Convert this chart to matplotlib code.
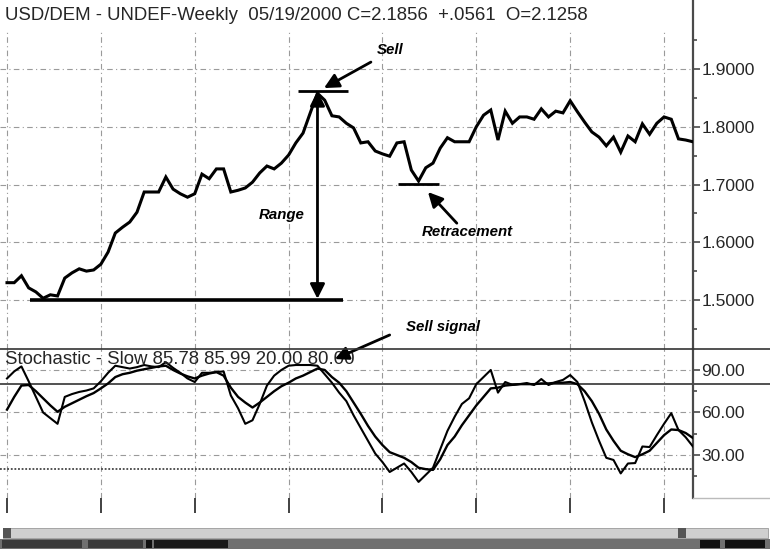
import matplotlib
matplotlib.use('Agg')
import matplotlib.pyplot as plt
import numpy as np
from matplotlib.patches import Rectangle
from matplotlib.lines import Line2D

# ---------------- data ----------------
price = [1.530, 1.530, 1.542, 1.521, 1.514, 1.503, 1.509, 1.507, 1.538, 1.547,
         1.554, 1.550, 1.552, 1.562, 1.583, 1.616, 1.626, 1.635, 1.652, 1.687,
         1.687, 1.687, 1.713, 1.692, 1.684, 1.678, 1.684, 1.718, 1.710, 1.727,
         1.727, 1.687, 1.690, 1.694, 1.704, 1.720, 1.732, 1.727, 1.737, 1.751,
         1.772, 1.789, 1.824, 1.858, 1.846, 1.819, 1.817, 1.806, 1.798, 1.772,
         1.774, 1.758, 1.753, 1.749, 1.772, 1.774, 1.725, 1.706, 1.729, 1.737,
         1.763, 1.781, 1.774, 1.774, 1.774, 1.800, 1.820, 1.829, 1.777, 1.827,
         1.806, 1.817, 1.817, 1.813, 1.831, 1.817, 1.827, 1.824, 1.845, 1.826,
         1.808, 1.791, 1.782, 1.767, 1.782, 1.756, 1.784, 1.774, 1.805, 1.787,
         1.806, 1.817, 1.813, 1.779, 1.777, 1.774]

stoch_k = [84, 89, 92.5, 82, 71, 60, 56, 52, 71, 73,
           74.5, 75.5, 77, 82, 88, 93, 92, 91, 92, 93.5,
           92.5, 92, 95.5, 91.5, 88, 84, 81.5, 88, 88, 88.5,
           89, 72, 63, 52, 54.5, 66, 79, 86, 90, 93,
           93.5, 93.5, 93.5, 93, 87, 81, 74, 68, 58, 49,
           40, 31, 25, 18, 21, 24, 18, 11, 16, 21,
           34, 47, 57, 66, 70, 80, 85, 90, 74, 81.5,
           79.5, 80, 80.8, 79.4, 83.6, 79.4, 81.5, 83, 86.4, 81.5,
           68, 53, 40, 28, 26.5, 17, 24, 24.3, 36, 35.6,
           44, 52, 59.5, 47.6, 42.5, 36]

stoch_d = [62, 71, 79, 79.4, 75, 70, 65, 60.5, 64, 66.5,
           69, 71.5, 73.7, 77, 80.5, 85, 87, 88, 89.5, 90.5,
           91.5, 92.5, 93, 90, 87.5, 85.5, 84, 86, 87.5, 88.5,
           86, 77.5, 71, 67, 63.5, 67, 71, 75, 78.5, 81,
           84, 86, 88.5, 91, 90, 85, 81, 75, 67, 59,
           50.5, 43, 37, 32, 30, 28, 25, 21, 20, 19.5,
           27, 37, 43, 51, 58, 65, 71, 77, 77.5, 79,
           79.5, 80, 80, 80, 80.5, 80.5, 81, 81, 81.5, 80,
           75, 68, 59, 48, 40, 33, 30.5, 28.5, 30.5, 33,
           38.5, 44, 48, 47.6, 45.5, 42]

price_ticks = [1.5, 1.6, 1.7, 1.8, 1.9]
price_labels = ['1.5000', '1.6000', '1.7000', '1.8000', '1.9000']
price_minor = [1.45, 1.55, 1.65, 1.75, 1.85, 1.95]
stoch_ticks = [30, 60, 90]
stoch_labels = ['30.00', '60.00', '90.00']
stoch_minor = [15, 45, 75]
grid_weeks = [0, 13, 26, 39, 52, 65, 78, 91]
overbought = 80
oversold = 20

title = "USD/DEM - UNDEF-Weekly  05/19/2000 C=2.1856  +.0561  O=2.1258"
stoch_title = "Stochastic - Slow 85.78 85.99 20.00 80.00"

# ---------------- layout ----------------
W, H = 770, 549
fig = plt.figure(figsize=(7.7, 5.49), dpi=100)
fig.patch.set_facecolor('white')


def fx(px):
    return px / W


def fy(py):
    return 1 - py / H


X_RIGHT = 693
Y_SPLIT = 349
Y_BOT = 497.5

ax1 = fig.add_axes([0, fy(Y_SPLIT), fx(X_RIGHT), fy(0) - fy(Y_SPLIT)])
ax2 = fig.add_axes([0, fy(Y_BOT), fx(X_RIGHT), fy(Y_SPLIT) - fy(Y_BOT)])

xs = np.arange(len(price))
xlim = (-0.97, 95.01)
text_font = ['Liberation Sans', 'DejaVu Sans']
ann_font = ['Liberation Sans', 'DejaVu Sans']
ann_kw = dict(family=ann_font, weight='heavy', style='italic', fontsize=10.8,
              ha='center', va='center', color='black')
txt_col = '#262626'
grid_kw = dict(color='#9a9a9a', lw=0.8, ls=(0, (5, 3, 1, 3)), zorder=1)

for ax in (ax1, ax2):
    ax.set_xlim(*xlim)
    ax.set_facecolor('none')
    for s in ('top', 'left', 'bottom'):
        ax.spines[s].set_visible(False)
    ax.spines['right'].set_color('#4a4a4a')
    ax.spines['right'].set_linewidth(1.6)
    ax.yaxis.tick_right()
    ax.tick_params(axis='y', which='major', direction='out', length=5, width=1.2,
                   pad=1, labelsize=12.6, colors='#4a4a4a', labelcolor=txt_col)
    ax.tick_params(axis='y', which='minor', direction='out', length=3, width=1.2,
                   colors='#4a4a4a')

# ---- upper panel ----
ax1.set_ylim(1.5 - 49 / 577.5, 1.5 + 300 / 577.5)
ax1.set_yticks(price_ticks)
ax1.set_yticklabels(price_labels, family=text_font)
ax1.set_yticks(price_minor, minor=True)
ax1.set_xticks([])
for p in price_ticks:
    ax1.axhline(p, **grid_kw)
for w in grid_weeks:
    ax1.axvline(w, ymin=0, ymax=(Y_SPLIT - 30) / Y_SPLIT, **grid_kw)

ax1.plot(xs, price, color='black', lw=2.2, zorder=5, solid_joinstyle='miter')

fig.text(fx(5), fy(15), title, family=text_font, fontsize=13.4, color=txt_col,
         va='center', ha='left')

ipk = int(np.argmax(price))
pk = price[ipk]
base = round(min(price), 1)
iret = ipk + int(np.argmin(price[ipk:]))
ret = price[iret]

# sell top line
ax1.hlines(pk + 0.004, ipk - 2.7, ipk + 4.2, color='black', lw=2, zorder=6)
# base line
ax1.hlines(base, 3.2, 46.5, color='black', lw=2.6, zorder=6)
# range double arrow
ax1.annotate('', xy=(ipk, pk + 0.004), xytext=(ipk, base + 0.002),
             arrowprops=dict(arrowstyle='<|-|>', color='black', lw=2,
                             mutation_scale=22, shrinkA=0, shrinkB=0), zorder=7)
ax1.text(ipk - 4.9, 1.647, 'Range', **ann_kw)
# sell arrow
ax1.annotate('', xy=(ipk + 0.9, pk + 0.009), xytext=(ipk + 7.4, pk + 0.054),
             arrowprops=dict(arrowstyle='-|>', color='black', lw=2,
                             mutation_scale=22, shrinkA=0, shrinkB=0), zorder=7)
ax1.text(ipk + 10, pk + 0.075, 'Sell', **ann_kw)
# retracement line and arrow
ax1.hlines(ret - 0.005, iret - 2.8, iret + 2.8, color='black', lw=2, zorder=6)
ax1.annotate('', xy=(iret + 1.3, ret - 0.019), xytext=(iret + 5.3, ret - 0.073),
             arrowprops=dict(arrowstyle='-|>', color='black', lw=2,
                             mutation_scale=22, shrinkA=0, shrinkB=0), zorder=7)
ax1.text(iret + 6.7, ret - 0.088, 'Retracement', **ann_kw)

# ---- lower panel ----
ax2.set_ylim(0, (Y_BOT - Y_SPLIT) / 1.417)
ax2.set_yticks(stoch_ticks)
ax2.set_yticklabels(stoch_labels, family=text_font)
ax2.set_yticks(stoch_minor, minor=True)
ax2.set_xticks(grid_weeks)
ax2.set_xticklabels([])
ax2.tick_params(axis='x', direction='out', length=11, width=1.3, colors='#333333')
for v in stoch_ticks:
    ax2.axhline(v, **grid_kw)
for w in grid_weeks:
    ax2.axvline(w, **grid_kw)
ax2.axhline(overbought, xmin=0, xmax=W / X_RIGHT, clip_on=False, color='#333333',
            lw=1.2, zorder=2)
ax2.axhline(oversold, color='#444444', lw=1.3, ls=(0, (1, 1)), zorder=2)

ax2.plot(xs, stoch_d, color='black', lw=1.7, zorder=5)
ax2.plot(xs, stoch_k, color='black', lw=1.5, zorder=5)

ax2.text(0.007 * (xlim[1] - xlim[0]) + xlim[0], 97.5, stoch_title, family=text_font,
         fontsize=13.4, color=txt_col, va='center', ha='left', zorder=8)

ax2.annotate('', xy=(45.4, 97.7), xytext=(53.0, 114.7), annotation_clip=False,
             arrowprops=dict(arrowstyle='-|>', color='black', lw=2,
                             mutation_scale=20, shrinkA=0, shrinkB=0), zorder=9)
ax2.text(60.4, 120.3, 'Sell signal', clip_on=False, **ann_kw)

# full-width separator line
fig.add_artist(Line2D([0, 1], [fy(Y_SPLIT)] * 2, transform=fig.transFigure,
                      color='#333333', lw=1.2))
fig.add_artist(Line2D([fx(X_RIGHT), 1], [fy(Y_BOT)] * 2, transform=fig.transFigure,
                      color='#bbbbbb', lw=1.0))

# scroll bar and status bar
fig.add_artist(Rectangle((fx(3), fy(538)), fx(765), fy(528) - fy(538),
                         transform=fig.transFigure, facecolor='#cfcfcf',
                         edgecolor='#9a9a9a', lw=0.6))
fig.add_artist(Rectangle((fx(3), fy(538)), fx(8), fy(528) - fy(538),
                         transform=fig.transFigure, facecolor='#555555', lw=0))
fig.add_artist(Rectangle((fx(678), fy(538)), fx(8), fy(528) - fy(538),
                         transform=fig.transFigure, facecolor='#555555', lw=0))
fig.add_artist(Rectangle((0, 0), 1, fy(538) - 0.002, transform=fig.transFigure,
                         facecolor='#707070', lw=0))
for x0, wd, col in [(2, 80, '#3a3a3a'), (88, 55, '#3a3a3a'), (146, 6, '#111111'),
                    (154, 74, '#1a1a1a'), (700, 20, '#111111'), (725, 40, '#111111')]:
    fig.add_artist(Rectangle((fx(x0), fy(548)), fx(wd), fy(540) - fy(548),
                             transform=fig.transFigure, facecolor=col, lw=0))

fig.savefig('out.png', dpi=100, facecolor='white')
